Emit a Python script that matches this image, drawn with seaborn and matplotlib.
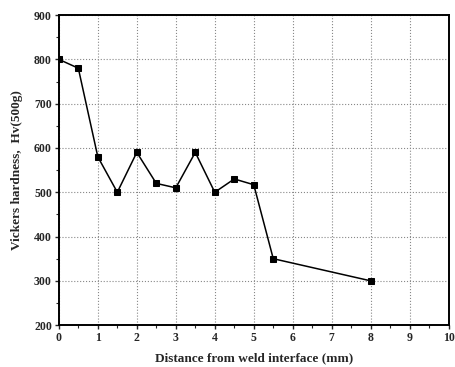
import matplotlib
matplotlib.use("Agg")
import matplotlib.pyplot as plt
import seaborn as sns
import pandas as pd
from matplotlib.ticker import MultipleLocator

distance = [0, 0.5, 1, 1.5, 2, 2.5, 3, 3.5, 4, 4.5, 5, 5.5, 8]
hardness = [800, 780, 580, 500, 590, 520, 510, 590, 500, 530, 517, 350, 300]

df = pd.DataFrame({"Distance": distance, "Hardness": hardness})

sns.set_style("white")
plt.rcParams['font.family'] = ['Liberation Serif', 'DejaVu Serif']

fig = plt.figure(figsize=(4.56, 3.67), dpi=100)
ax = fig.add_axes([0.129, 0.114, 0.855, 0.845])

sns.lineplot(data=df, x="Distance", y="Hardness", ax=ax, color="black",
             linewidth=1.1, marker="s", markersize=5, markeredgecolor="black",
             markerfacecolor="black")

ax.set_xlim(0, 10)
ax.set_ylim(200, 900)
ax.xaxis.set_major_locator(MultipleLocator(1))
ax.xaxis.set_minor_locator(MultipleLocator(0.5))
ax.yaxis.set_major_locator(MultipleLocator(100))
ax.yaxis.set_minor_locator(MultipleLocator(50))
ax.grid(True, which="major", linestyle=":", color="#888888", linewidth=0.8)
ax.tick_params(axis="both", which="major", direction="out", length=3, width=1,
               labelsize=8.5, pad=2, bottom=True, left=True)
ax.tick_params(axis="both", which="minor", direction="out", length=2, width=0.8,
               bottom=True, left=True)
for lab in ax.get_xticklabels() + ax.get_yticklabels():
    lab.set_fontweight("bold")
for s in ax.spines.values():
    s.set_color("black")
    s.set_linewidth(1.4)

ax.set_xlabel("Distance from weld interface (mm)", fontsize=9.5, fontweight="bold", labelpad=6)
ax.set_ylabel("Vickers hardness,  Hv(500g)", fontsize=9.5, fontweight="bold", labelpad=8)

fig.savefig("out.png", dpi=100)
